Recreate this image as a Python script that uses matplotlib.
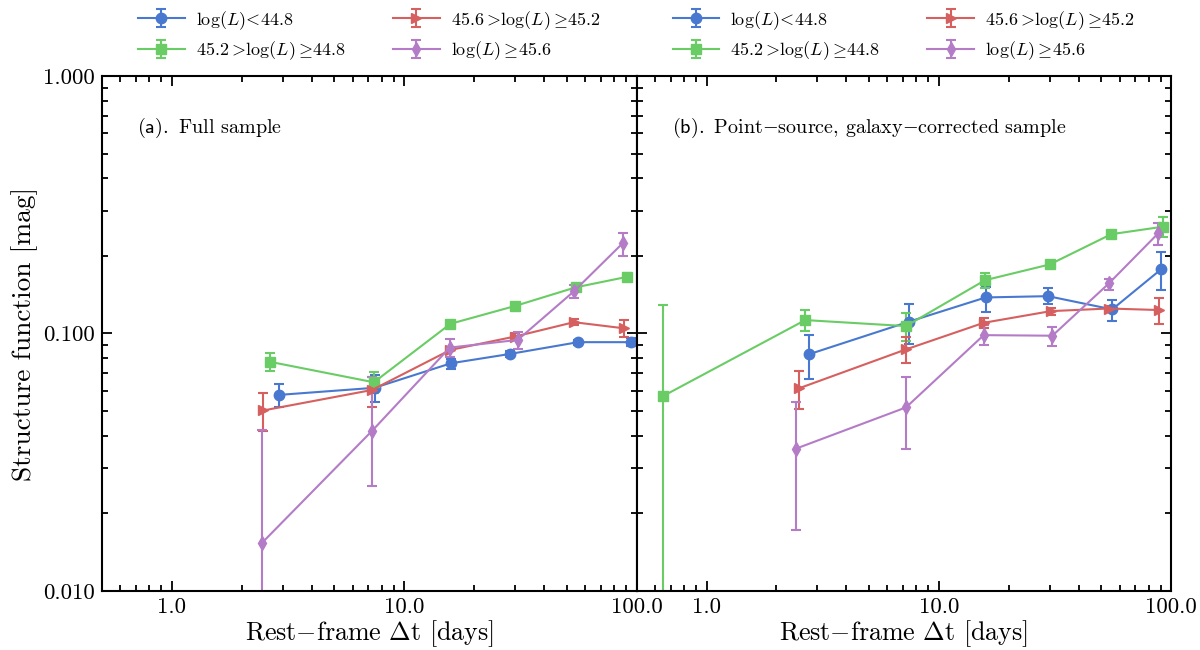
import numpy as np
import matplotlib
matplotlib.use("Agg")
import matplotlib.pyplot as plt
from matplotlib.ticker import FormatStrFormatter, LogLocator, NullFormatter

plt.rcParams['font.family'] = ['cmr10', 'DejaVu Sans']
plt.rcParams['mathtext.fontset'] = 'cm'
plt.rcParams['axes.unicode_minus'] = False
plt.rcParams['axes.formatter.use_mathtext'] = True

# ---- colours / labels ----
colors = ["#4878CF", "#6ACC65", "#D65F5F", "#B47CC7"]
markers = ["o", "s", ">", "d"]
labels = [r"$\log(L)\!<\!44.8$",
          r"$45.2\,\!>\!\log(L)\,\!\geq\!44.8$",
          r"$45.6\,\!>\!\log(L)\,\!\geq\!45.2$",
          r"$\log(L)\,\!\geq\!45.6$"]
panel_titles = [r"$\mathsf{(a).}$ Full sample",
                r"$\mathsf{(b).}$ Point$-$source, galaxy$-$corrected sample"]

# ---- panel (a): full sample ----
a_blue_x = [2.88, 7.45, 15.9, 28.4, 56.0, 94.3]
a_blue_y = [0.0577, 0.0615, 0.0766, 0.0832, 0.0925, 0.0925]
a_blue_lo = [0.0517, 0.0540, 0.0728, 0.0810, 0.0905, 0.0890]
a_blue_hi = [0.0634, 0.0687, 0.0798, 0.0855, 0.0945, 0.0960]

a_green_x = [2.64, 7.40, 15.8, 30.1, 54.6, 91.2]
a_green_y = [0.0776, 0.0646, 0.109, 0.128, 0.151, 0.166]
a_green_lo = [0.0714, 0.0585, 0.106, 0.125, 0.146, 0.161]
a_green_hi = [0.0841, 0.0708, 0.112, 0.131, 0.156, 0.171]

a_red_x = [2.47, 7.26, 15.8, 30.0, 53.7, 88.3]
a_red_y = [0.0502, 0.0603, 0.0863, 0.0973, 0.1106, 0.1047]
a_red_lo = [0.0418, 0.0517, 0.0813, 0.0945, 0.1075, 0.0973]
a_red_hi = [0.0589, 0.0679, 0.0889, 0.1000, 0.1137, 0.1130]

a_purple_x = [2.44, 7.28, 15.7, 30.8, 53.7, 87.3]
a_purple_y = [0.01535, 0.0419, 0.0881, 0.0944, 0.1457, 0.2245]
a_purple_lo = [0.0056, 0.0255, 0.0813, 0.0869, 0.1370, 0.2005]
a_purple_hi = [0.0422, 0.0679, 0.0948, 0.1014, 0.1545, 0.2467]

# ---- panel (b): point-source, galaxy-corrected sample ----
b_blue_x = [2.77, 7.41, 15.9, 29.5, 55.7, 90.8]
b_blue_y = [0.0831, 0.111, 0.138, 0.1396, 0.124, 0.178]
b_blue_lo = [0.0668, 0.0914, 0.121, 0.1297, 0.112, 0.148]
b_blue_hi = [0.0988, 0.1297, 0.151, 0.1505, 0.1349, 0.2075]

b_green_x = [0.65, 2.66, 7.22, 15.8, 30.0, 55.2, 91.8]
b_green_y = [0.0571, 0.1127, 0.1068, 0.161, 0.1854, 0.243, 0.2597]
b_green_lo = [0.0001, 0.102, 0.0937, 0.1496, 0.180, 0.237, 0.236]
b_green_hi = [0.1285, 0.1233, 0.1196, 0.172, 0.1905, 0.249, 0.2825]

b_red_x = [2.51, 7.22, 15.6, 30.3, 53.9, 88.7]
b_red_y = [0.0613, 0.0867, 0.110, 0.1221, 0.125, 0.1233]
b_red_lo = [0.0511, 0.0765, 0.1046, 0.1180, 0.122, 0.1087]
b_red_hi = [0.0712, 0.0970, 0.1147, 0.1260, 0.128, 0.1368]

b_purple_x = [2.43, 7.22, 15.6, 30.8, 53.9, 87.8]
b_purple_y = [0.0357, 0.0516, 0.0985, 0.098, 0.1564, 0.2446]
b_purple_lo = [0.0173, 0.0357, 0.0901, 0.0895, 0.147, 0.221]
b_purple_hi = [0.0541, 0.0675, 0.108, 0.1061, 0.163, 0.2676]

panels = [
    [(a_blue_x, a_blue_y, a_blue_lo, a_blue_hi),
     (a_green_x, a_green_y, a_green_lo, a_green_hi),
     (a_red_x, a_red_y, a_red_lo, a_red_hi),
     (a_purple_x, a_purple_y, a_purple_lo, a_purple_hi)],
    [(b_blue_x, b_blue_y, b_blue_lo, b_blue_hi),
     (b_green_x, b_green_y, b_green_lo, b_green_hi),
     (b_red_x, b_red_y, b_red_lo, b_red_hi),
     (b_purple_x, b_purple_y, b_purple_lo, b_purple_hi)],
]

fig, axes = plt.subplots(1, 2, figsize=(12, 6.5), dpi=100, sharey=True)
fig.subplots_adjust(left=0.085, right=0.976, bottom=0.091, top=0.883, wspace=0)

for ax, series, title in zip(axes, panels, panel_titles):
    for (x, y, lo, hi), c, m, lab in zip(series, colors, markers, labels):
        y = np.asarray(y); lo = np.asarray(lo); hi = np.asarray(hi)
        yerr = np.vstack([y - lo, hi - y])
        ax.errorbar(x, y, yerr=yerr, color=c, marker=m, ms=7.5, lw=1.5,
                    elinewidth=1.5, capsize=3.5, capthick=1.5, label=lab)
    ax.set_xscale('log')
    ax.set_yscale('log')
    ax.set_xlim(0.5, 100)
    ax.set_ylim(0.01, 1.0)
    ax.xaxis.set_major_locator(LogLocator(base=10, numticks=10))
    ax.xaxis.set_major_formatter(FormatStrFormatter('%.1f'))
    ax.xaxis.set_minor_formatter(NullFormatter())
    ax.yaxis.set_major_formatter(FormatStrFormatter('%.3f'))
    ax.yaxis.set_minor_formatter(NullFormatter())
    ax.tick_params(which='both', direction='in', top=True, right=True,
                   labelsize=16.5, width=1.3)
    ax.tick_params(which='major', length=7, pad=5)
    ax.tick_params(which='minor', length=4)
    for s in ax.spines.values():
        s.set_linewidth(1.5)
    ax.set_xlabel(r"Rest$-$frame $\Delta$t [days]", fontsize=18.7, labelpad=1)
    ax.text(0.066, 0.90, title, transform=ax.transAxes, fontsize=14.5,
            va='center', ha='left')
    ax.legend(loc='lower center', bbox_to_anchor=(0.5, 0.996), ncol=2,
              frameon=False, fontsize=13.0, columnspacing=2.6,
              handlelength=2.6, labelspacing=0.42, handletextpad=0.6)

axes[0].set_ylabel("Structure function [mag]", fontsize=19.7, labelpad=4)

fig.savefig("out.png", dpi=100)
